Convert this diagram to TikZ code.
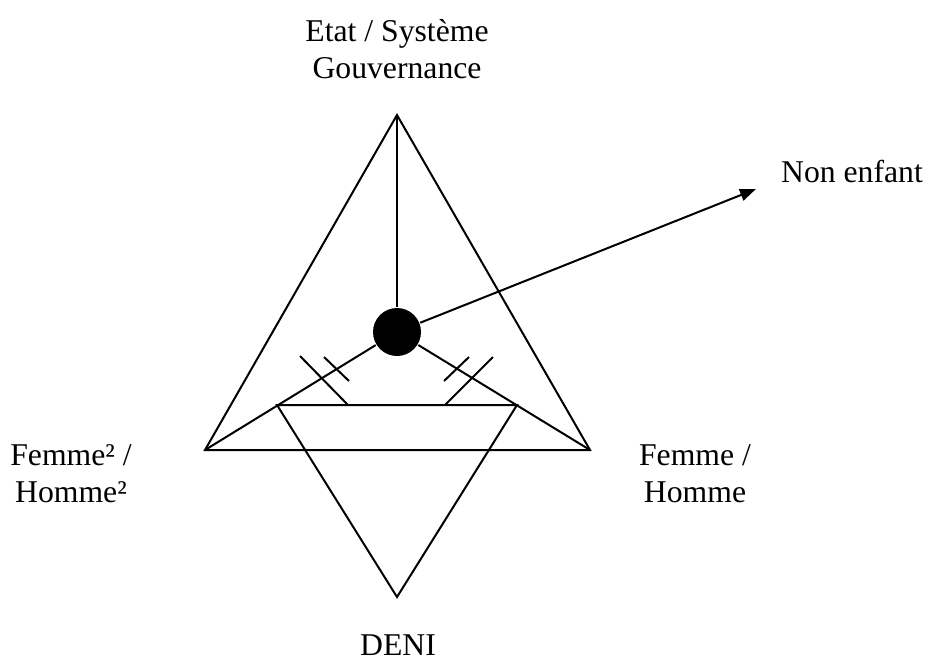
\documentclass[tikz,border=0pt]{standalone}
\usepackage{fontspec}
\setmainfont{Liberation Serif}
\usepackage{tikz}
\usetikzlibrary{positioning,arrows.meta}

\begin{document}
\begin{tikzpicture}[x=0.5pt,y=-0.5pt,line width=1pt,
  lbl/.style={align=center,inner sep=0pt,font=\fontsize{15.85}{18.5}\selectfont}]
\useasboundingbox (0,0) rectangle (927,660);
% Points
\coordinate (apex) at (397,115);
\coordinate (left) at (205,450);
\coordinate (right) at (590,450);
\coordinate (tl) at (277,405);
\coordinate (tr) at (517,405);
\coordinate (deni) at (397,597);
\node[circle, fill=black, minimum size=24pt, inner sep=0pt] (dot) at (397,332) {};
\coordinate (tip) at (756,189);

% Labels
\node[lbl] (etat) at (397,49) {Etat / Système\\Gouvernance};
\node[lbl] (nonenfant) at (852,171) {Non enfant};
\node[lbl] (femme2) at (71,474) {Femme² /\\Homme²};
\node[lbl] (femme) at (695,474) {Femme /\\Homme};
\node[lbl] (denilbl) at (398,645) {DENI};

% Triangles
\draw (apex) -- (left) -- (right) -- cycle;
\draw (tl) -- (tr) -- (deni) -- cycle;

% Lines
\draw (dot) -- (apex);
\draw (dot) -- (left);
\draw (dot) -- (right);
\draw[-{Triangle[length=8pt,width=6pt]}] (dot) -- (tip);

% Marks
\draw (300,356) -- (348,405);
\draw (324,357) -- (349,381);
\draw (493,357) -- (445,405);
\draw (469,357) -- (444,381);
\end{tikzpicture}
\end{document}
